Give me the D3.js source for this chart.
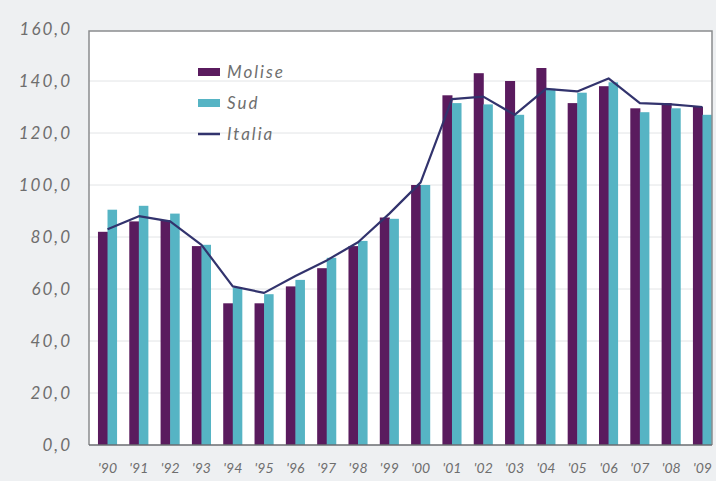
<!DOCTYPE html>
<html>
<head>
<meta charset="utf-8">
<script src="https://cdn.jsdelivr.net/npm/d3@7"></script>
<style>
  html, body { margin: 0; padding: 0; background: #eef0f2; }
  svg { display: block; }
  text { font-family: Lato, "DejaVu Sans", sans-serif; font-style: italic; fill: #6e6e6e; }
</style>
</head>
<body>
<svg id="chart" width="716" height="481"></svg>
<script>
const years = ["'90","'91","'92","'93","'94","'95","'96","'97","'98","'99","'00","'01","'02","'03","'04","'05","'06","'07","'08","'09"];
const molise = [82, 86, 86.5, 76.5, 54.5, 54.5, 61, 68, 76.5, 87.5, 100, 134.5, 143, 140, 145, 131.5, 138, 129.5, 131.5, 130];
const sud    = [90.5, 92, 89, 77, 60.5, 58, 63.5, 72, 78.5, 87, 100, 131.5, 131, 127, 137, 135.5, 139.5, 128, 129.5, 127];
const italia = [83, 88, 86, 77, 61, 58.5, 65, 71, 78, 89, 101, 133, 134, 127, 137, 136, 141, 131.5, 131, 130];
const yTicks = [0, 20, 40, 60, 80, 100, 120, 140, 160];
const seriesNames = ["Molise", "Sud", "Italia"];
const colors = { Molise: "#5a1b5e", Sud: "#56b4c4", Italia: "#32336d" };

const svg = d3.select("#chart");
const pL = 89, pR = 712, pT = 31, pB = 445;

svg.append("rect").attr("x", pL).attr("y", pT).attr("width", pR - pL).attr("height", pB - pT).attr("fill", "#fff");

const x = d3.scaleBand().domain(years).range([96.4, 713.6]).paddingInner(0.39).paddingOuter(0.05);
const y = d3.scaleLinear().domain([0, 160]).range([pB, 29]);

// gridlines
svg.append("g").selectAll("line").data(yTicks.filter(d => d > 0 && d < 160)).join("line")
  .attr("x1", pL).attr("x2", pR).attr("y1", d => y(d)).attr("y2", d => y(d))
  .attr("stroke", "#e2e4e6").attr("stroke-width", 1);

// y axis
const yAxis = svg.append("g").attr("transform", `translate(${pL},0)`)
  .call(d3.axisLeft(y).tickValues(yTicks).tickSize(0).tickPadding(17)
    .tickFormat(d => d3.format(".1f")(d).replace(".", ",")));
yAxis.select(".domain").remove();
yAxis.selectAll("text").style("font-size", "17px").style("letter-spacing", "2px").attr("fill", "#6e6e6e");

// bars
const half = x.bandwidth() / 2;
svg.append("g").selectAll("rect").data(years).join("rect")
  .attr("x", d => x(d)).attr("width", half + 0.5)
  .attr("y", (d, i) => y(molise[i])).attr("height", (d, i) => y(0) - y(molise[i]))
  .attr("fill", colors.Molise);
svg.append("g").selectAll("rect").data(years).join("rect")
  .attr("x", d => x(d) + half).attr("width", half)
  .attr("y", (d, i) => y(sud[i])).attr("height", (d, i) => y(0) - y(sud[i]))
  .attr("fill", colors.Sud);

// line
const line = d3.line().x((d, i) => x(years[i]) + x.bandwidth() / 2).y(d => y(d));
svg.append("path").datum(italia).attr("d", line)
  .attr("fill", "none").attr("stroke", colors.Italia).attr("stroke-width", 2.2).attr("stroke-linejoin", "round");

// frame
svg.append("path")
  .attr("d", `M${pL},${pB}V${pT}H${pR}V${pB}`)
  .attr("fill", "none").attr("stroke", "#8a8c8e").attr("stroke-width", 1.5);
svg.append("line").attr("x1", pL).attr("x2", pR).attr("y1", pB).attr("y2", pB)
  .attr("stroke", "#6a6c70").attr("stroke-width", 1.5);

// x axis
const xAxis = svg.append("g").attr("transform", `translate(0,${pB})`)
  .call(d3.axisBottom(x).tickSize(0).tickPadding(18));
xAxis.select(".domain").remove();
xAxis.selectAll("text").style("font-size", "14px").attr("fill", "#6e6e6e");

// legend
const legend = svg.append("g");
const legY = [72, 103, 134];
seriesNames.forEach((name, i) => {
  const g = legend.append("g").attr("transform", `translate(198,${legY[i]})`);
  if (name === "Italia") {
    g.append("line").attr("x1", 0).attr("x2", 22).attr("y1", 0).attr("y2", 0)
      .attr("stroke", colors.Italia).attr("stroke-width", 2.5);
  } else {
    g.append("rect").attr("x", 0).attr("y", -4).attr("width", 22).attr("height", 8).attr("fill", colors[name]);
  }
  g.append("text").attr("x", 29).attr("y", 0).attr("dy", "0.35em")
    .style("font-size", "17px").style("letter-spacing", "2px").attr("fill", "#6e6e6e").text(name);
});
</script>
</body>
</html>
